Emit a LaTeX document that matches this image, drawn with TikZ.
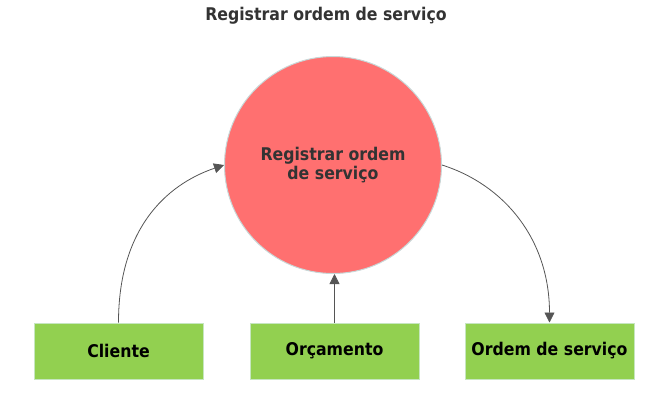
\documentclass[tikz,border=0pt]{standalone}
\usepackage{fontspec}
\setmainfont{DejaVu Sans Condensed}
\usetikzlibrary{arrows.meta}
\definecolor{circfill}{HTML}{FF7070}
\definecolor{circline}{HTML}{C8D8D8}
\definecolor{boxfill}{HTML}{92D050}
\definecolor{boxline}{HTML}{C6E6C0}
\definecolor{arrcol}{HTML}{555555}
\definecolor{txtdark}{HTML}{333333}
\tikzset{
  procbox/.style={draw=boxline, line width=1pt, fill=boxfill, minimum width=169pt, minimum height=56pt, inner sep=0pt, font=\bfseries\fontsize{17.5}{19}\selectfont, text=black},
  proccirc/.style={circle, draw=circline, line width=1pt, fill=circfill, minimum size=217pt, inner sep=0pt, font=\bfseries\fontsize{17.5}{19}\selectfont, text=txtdark, align=center},
  flow/.style={draw=arrcol, line width=0.8pt, -{Triangle[length=10pt,width=10pt]}}
}
\begin{document}
\begin{tikzpicture}[x=1pt,y=-1pt]
\useasboundingbox (0,0) rectangle (665,405);
\node[font=\bfseries\fontsize{17.5}{19}\selectfont, text=txtdark] (title) at (326,16) {Registrar ordem de serviço};
\node[proccirc] (proc) at (333,165) {Registrar ordem\\de serviço};
\node[procbox] (cli) at (118.5,351) {Cliente};
\node[procbox] (orc) at (334.5,351) {Orçamento};
\node[procbox] (os) at (549.5,351) {Ordem de serviço};
\draw[flow] (cli.north) .. controls (118.5,230) and (165,185) .. (proc.west);
\draw[flow] (orc.north) -- (proc.south -| orc.north);
\draw[flow] (proc.east) .. controls (505,185) and (549.5,240) .. (os.north);
\end{tikzpicture}
\end{document}
